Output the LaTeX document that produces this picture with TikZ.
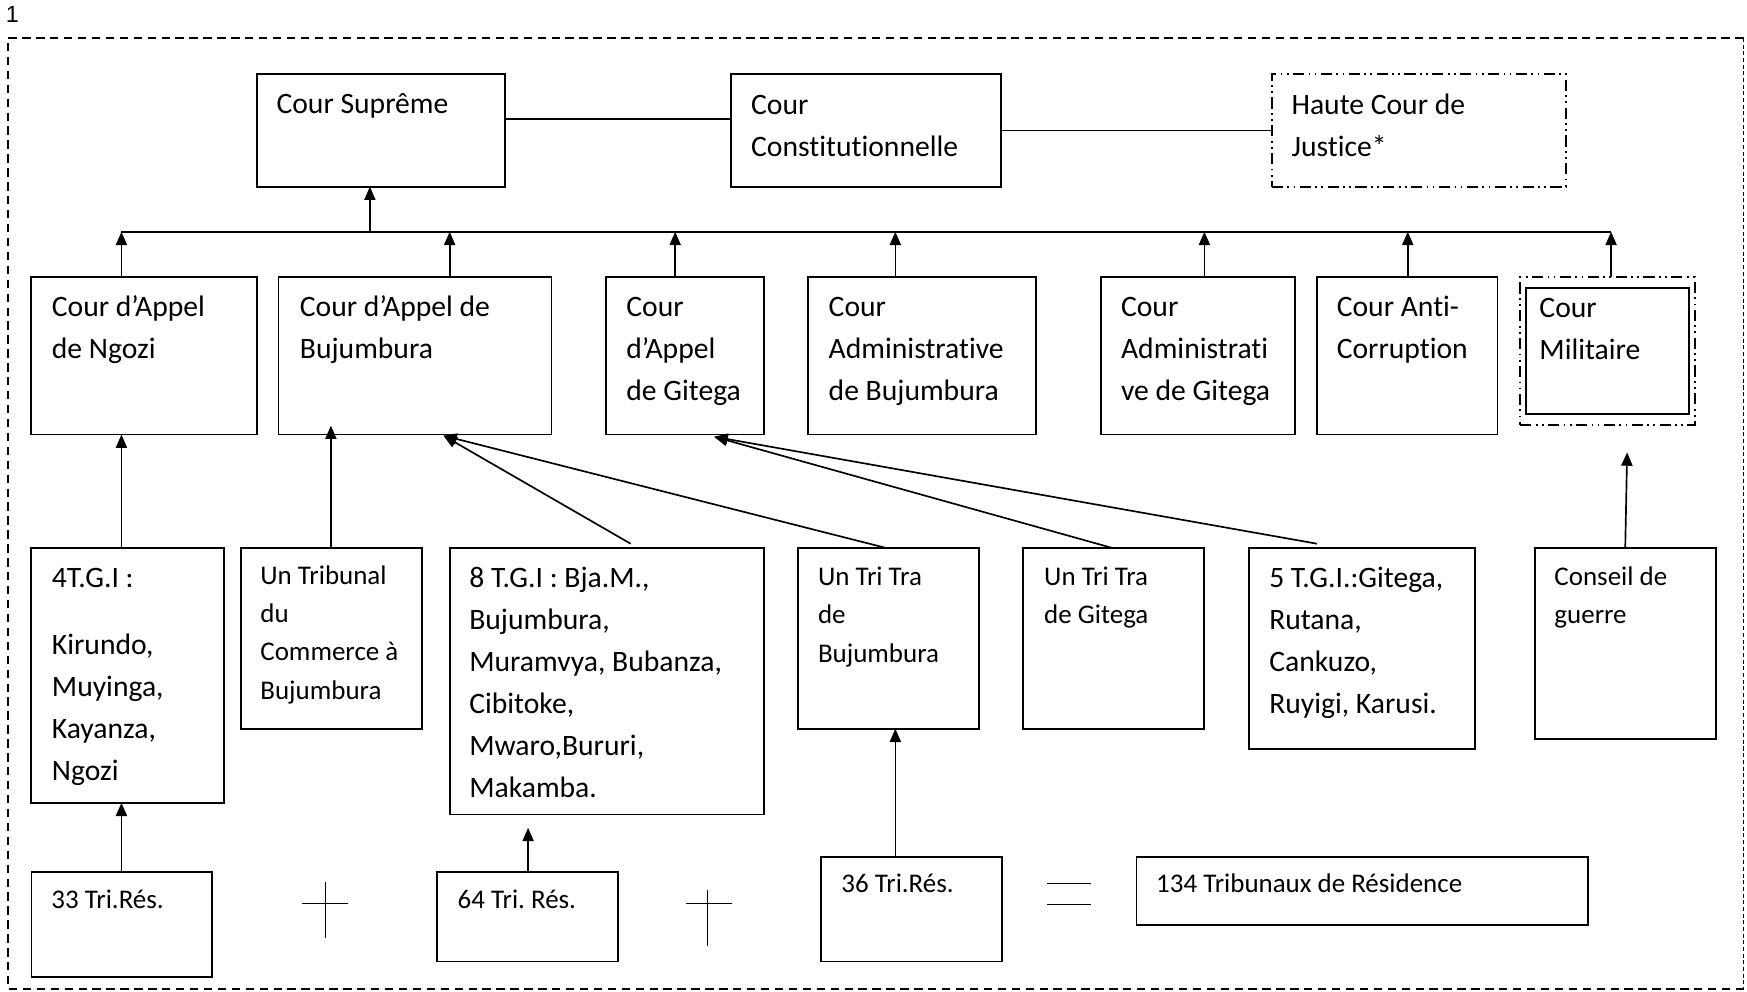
\documentclass[tikz,border=0pt]{standalone}
\usepackage{fontspec}
\setmainfont{Carlito}[Ligatures=NoCommon]
\newfontfamily\labelfont{Liberation Sans}
\usetikzlibrary{arrows.meta}
\frenchspacing
\tikzset{
  court/.style={draw, line width=1.7pt, inner sep=0pt, outer sep=0pt, anchor=north west},
  courtdd/.style={court, dash pattern=on 10pt off 4pt on 1.5pt off 4pt on 1.5pt off 4pt},
  lbl/.style={anchor=north west, inner sep=0pt, align=left, font=\fontsize{26.6pt}{37.7pt}\selectfont},
  lbls/.style={anchor=north west, inner sep=0pt, align=left, font=\fontsize{24.2pt}{34.5pt}\selectfont},
  conn/.style={line width=1.5pt},
  arr/.style={conn, -{Triangle[length=12pt,width=10pt]}},
  sign/.style={line width=1.3pt},
  frameline/.style={line width=1.3pt, dash pattern=on 7.5pt off 5pt},
  frameright/.style={line width=1.3pt, dash pattern=on 3.6pt off 2.4pt},
}
\newcommand\fr{\rule{0pt}{22pt}}
\begin{document}
\begin{tikzpicture}[x=1pt,y=-1pt]
\useasboundingbox (0,0) rectangle (1568,890);
% page number and frame
\node[anchor=base west, inner sep=0pt, font=\labelfont\fontsize{21pt}{22pt}\selectfont] (pagenum) at (5,20) {1};
\coordinate (fTL) at (7,34); \coordinate (fTR) at (1565,34);
\coordinate (fBL) at (7,887.5); \coordinate (fBR) at (1565,887.5);
\draw[frameline] (fTR) -- (fTL) -- (fBL) -- (fBR);
\draw[frameright] (fTR) -- (fBR);
% row 1
\node[court, minimum width=222pt, minimum height=101pt] (sup) at (231,66.5) {};
\node[court, minimum width=242.5pt, minimum height=101pt] (cons) at (656,66.5) {};
\node[courtdd, minimum width=264pt, minimum height=101pt] (haute) at (1141.5,66.5) {};
\node[lbl] (tsup) at (248,80) {\fr Cour Suprême};
\node[lbl] (tcons) at (674,81) {\fr Cour\\Constitutionnelle};
\node[lbl] (thaute) at (1159,81) {\fr Haute Cour de\\Justice*};
% row 2
\node[court, minimum width=203pt, minimum height=141pt] (ngozi) at (28,249) {};
\node[court, minimum width=245pt, minimum height=141pt] (cabuj) at (250,249) {};
\node[court, minimum width=142.5pt, minimum height=141pt] (cagit) at (543.5,249) {};
\node[court, minimum width=204.5pt, minimum height=141pt] (cadbuj) at (725.5,249) {};
\node[court, minimum width=174pt, minimum height=141pt] (cadgit) at (988,249) {};
\node[court, minimum width=162pt, minimum height=141pt] (anti) at (1182,249) {};
\node[courtdd, minimum width=156.5pt, minimum height=132.5pt] (milout) at (1364.5,249) {};
\node[court, minimum width=146.5pt, minimum height=113pt] (milin) at (1369.5,258.5) {};
\node[lbl] (tngozi) at (46.4,262) {\fr Cour d’Appel\\de Ngozi};
\node[lbl] (tcabuj) at (269,262) {\fr Cour d’Appel de\\Bujumbura};
\node[lbl] (tcagit) at (562,262) {\fr Cour\\d’Appel\\de Gitega};
\node[lbl] (tcadbuj) at (743.6,262) {\fr Cour\\Administrative\\de Bujumbura};
\node[lbl] (tcadgit) at (1006,262) {\fr Cour\\Administrati\\ve de Gitega};
\node[lbl] (tanti) at (1199.6,262) {\fr Cour Anti-\\Corruption};
\node[lbl] (tmil) at (1381.5,263) {\fr Cour\\Militaire};
% row 3
\node[court, minimum width=173pt, minimum height=228.5pt] (tgi4) at (28,492) {};
\node[court, minimum width=162pt, minimum height=162pt] (trib) at (216.5,492) {};
\node[court, minimum width=282pt, minimum height=239pt] (tgi8) at (403.5,492) {};
\node[court, minimum width=162.5pt, minimum height=162pt] (ttbuj) at (716,492) {};
\node[court, minimum width=162.5pt, minimum height=162pt] (ttgit) at (918.5,492) {};
\node[court, minimum width=202.5pt, minimum height=180pt] (tgi5) at (1121,492) {};
\node[court, minimum width=162pt, minimum height=171pt] (conseil) at (1378,492) {};
\node[lbl] (ttgi4) at (46.4,505) {\fr 4T.G.I :\\[22.3pt]Kirundo,\\Muyinga,\\Kayanza,\\Ngozi};
\node[lbls] (ttrib) at (233.5,502) {\fr Un Tribunal\\du\\Commerce à\\Bujumbura};
\node[lbl] (ttgi8) at (421,505) {\fr 8 T.G.I : Bja.M.,\\Bujumbura,\\Muramvya, Bubanza,\\Cibitoke,\\Mwaro,Bururi,\\Makamba.};
\node[lbls] (tttbuj) at (734,503) {\fr Un Tri Tra\\de\\Bujumbura};
\node[lbls] (tttgit) at (937,503) {\fr Un Tri Tra\\de Gitega};
\node[lbl] (ttgi5) at (1139,505) {\fr 5 T.G.I.:Gitega,\\Rutana,\\Cankuzo,\\Ruyigi, Karusi.};
\node[lbls] (tconseil) at (1395,503) {\fr Conseil de\\guerre};
% row 4
\node[court, minimum width=162.3pt, minimum height=94.5pt] (tr33) at (28.3,782.5) {};
\node[court, minimum width=162.4pt, minimum height=80.5pt] (tr64) at (392.6,782.5) {};
\node[court, minimum width=162.2pt, minimum height=94pt] (tr36) at (736.8,769) {};
\node[court, minimum width=405pt, minimum height=61pt] (tr134) at (1020,769) {};
\node[lbls] (ttr33) at (46,793) {\fr 33 Tri.Rés.};
\node[lbls] (ttr64) at (410.6,793) {\fr 64 Tri. Rés.};
\node[lbls] (ttr36) at (755,779) {\fr 36 Tri.Rés.};
\node[lbls] (ttr134) at (1037.5,779) {\fr 134 Tribunaux de Résidence};
% top connections
\draw[conn] ([yshift=10pt]sup.east) -- ([yshift=10pt]cons.west);
\draw[conn] (cons.east) -- (haute.west);
% bus
\coordinate (busL) at (109,208);
\coordinate (busR) at (1446,208);
\coordinate (bs) at (332,208);
\draw[conn] (busL) -- (busR);
\draw[arr] (bs) -- (bs |- sup.south);
\coordinate (b2) at (403.6,208);
\coordinate (b3) at (606,208);
\coordinate (b4) at (803.6,208);
\coordinate (b5) at (1081,208);
\coordinate (b6) at (1263.5,208);
\draw[arr] (busL |- ngozi.north) -- (busL);
\draw[arr] (b2 |- cabuj.north) -- (b2);
\draw[arr] (b3 |- cagit.north) -- (b3);
\draw[arr] (b4 |- cadbuj.north) -- (b4);
\draw[arr] (b5 |- cadgit.north) -- (b5);
\draw[arr] (b6 |- anti.north) -- (b6);
\draw[arr] (busR |- milout.north) -- (busR);
% row 3 to row 2
\draw[arr] (busL |- tgi4.north) -- (busL |- ngozi.south);
\coordinate (tb) at (297,382);
\draw[arr] (tb |- trib.north) -- (tb);
\coordinate (hb) at (398,391);
\coordinate (hg) at (641,392);
\draw[arr] ([xshift=162.5pt,yshift=4pt]tgi8.north west) -- (hb);
\draw[arr] ([xshift=80pt]ttbuj.north west) -- (hb);
\draw[arr] ([xshift=80.5pt]ttgit.north west) -- (hg);
\draw[arr] ([xshift=61pt,yshift=4pt]tgi5.north west) -- (hg);
\coordinate (hm) at (1460.4,406);
\draw[arr] ([xshift=80.7pt]conseil.north west) -- (hm);
% row 4 to row 3
\draw[arr] (busL |- tr33.north) -- (busL |- tgi4.south);
\coordinate (h64) at (474,743);
\draw[arr] (h64 |- tr64.north) -- (h64);
\draw[arr] (b4 |- tr36.north) -- (b4 |- ttbuj.south);
% signs
\draw[sign] (292,792) -- (292,842);
\draw[sign] (271,811) -- (312,811);
\draw[sign] (635,799) -- (635,849);
\draw[sign] (616,811) -- (657,811);
\draw[sign] (940,793) -- (979,793);
\draw[sign] (940,812) -- (979,812);
\end{tikzpicture}
\end{document}
